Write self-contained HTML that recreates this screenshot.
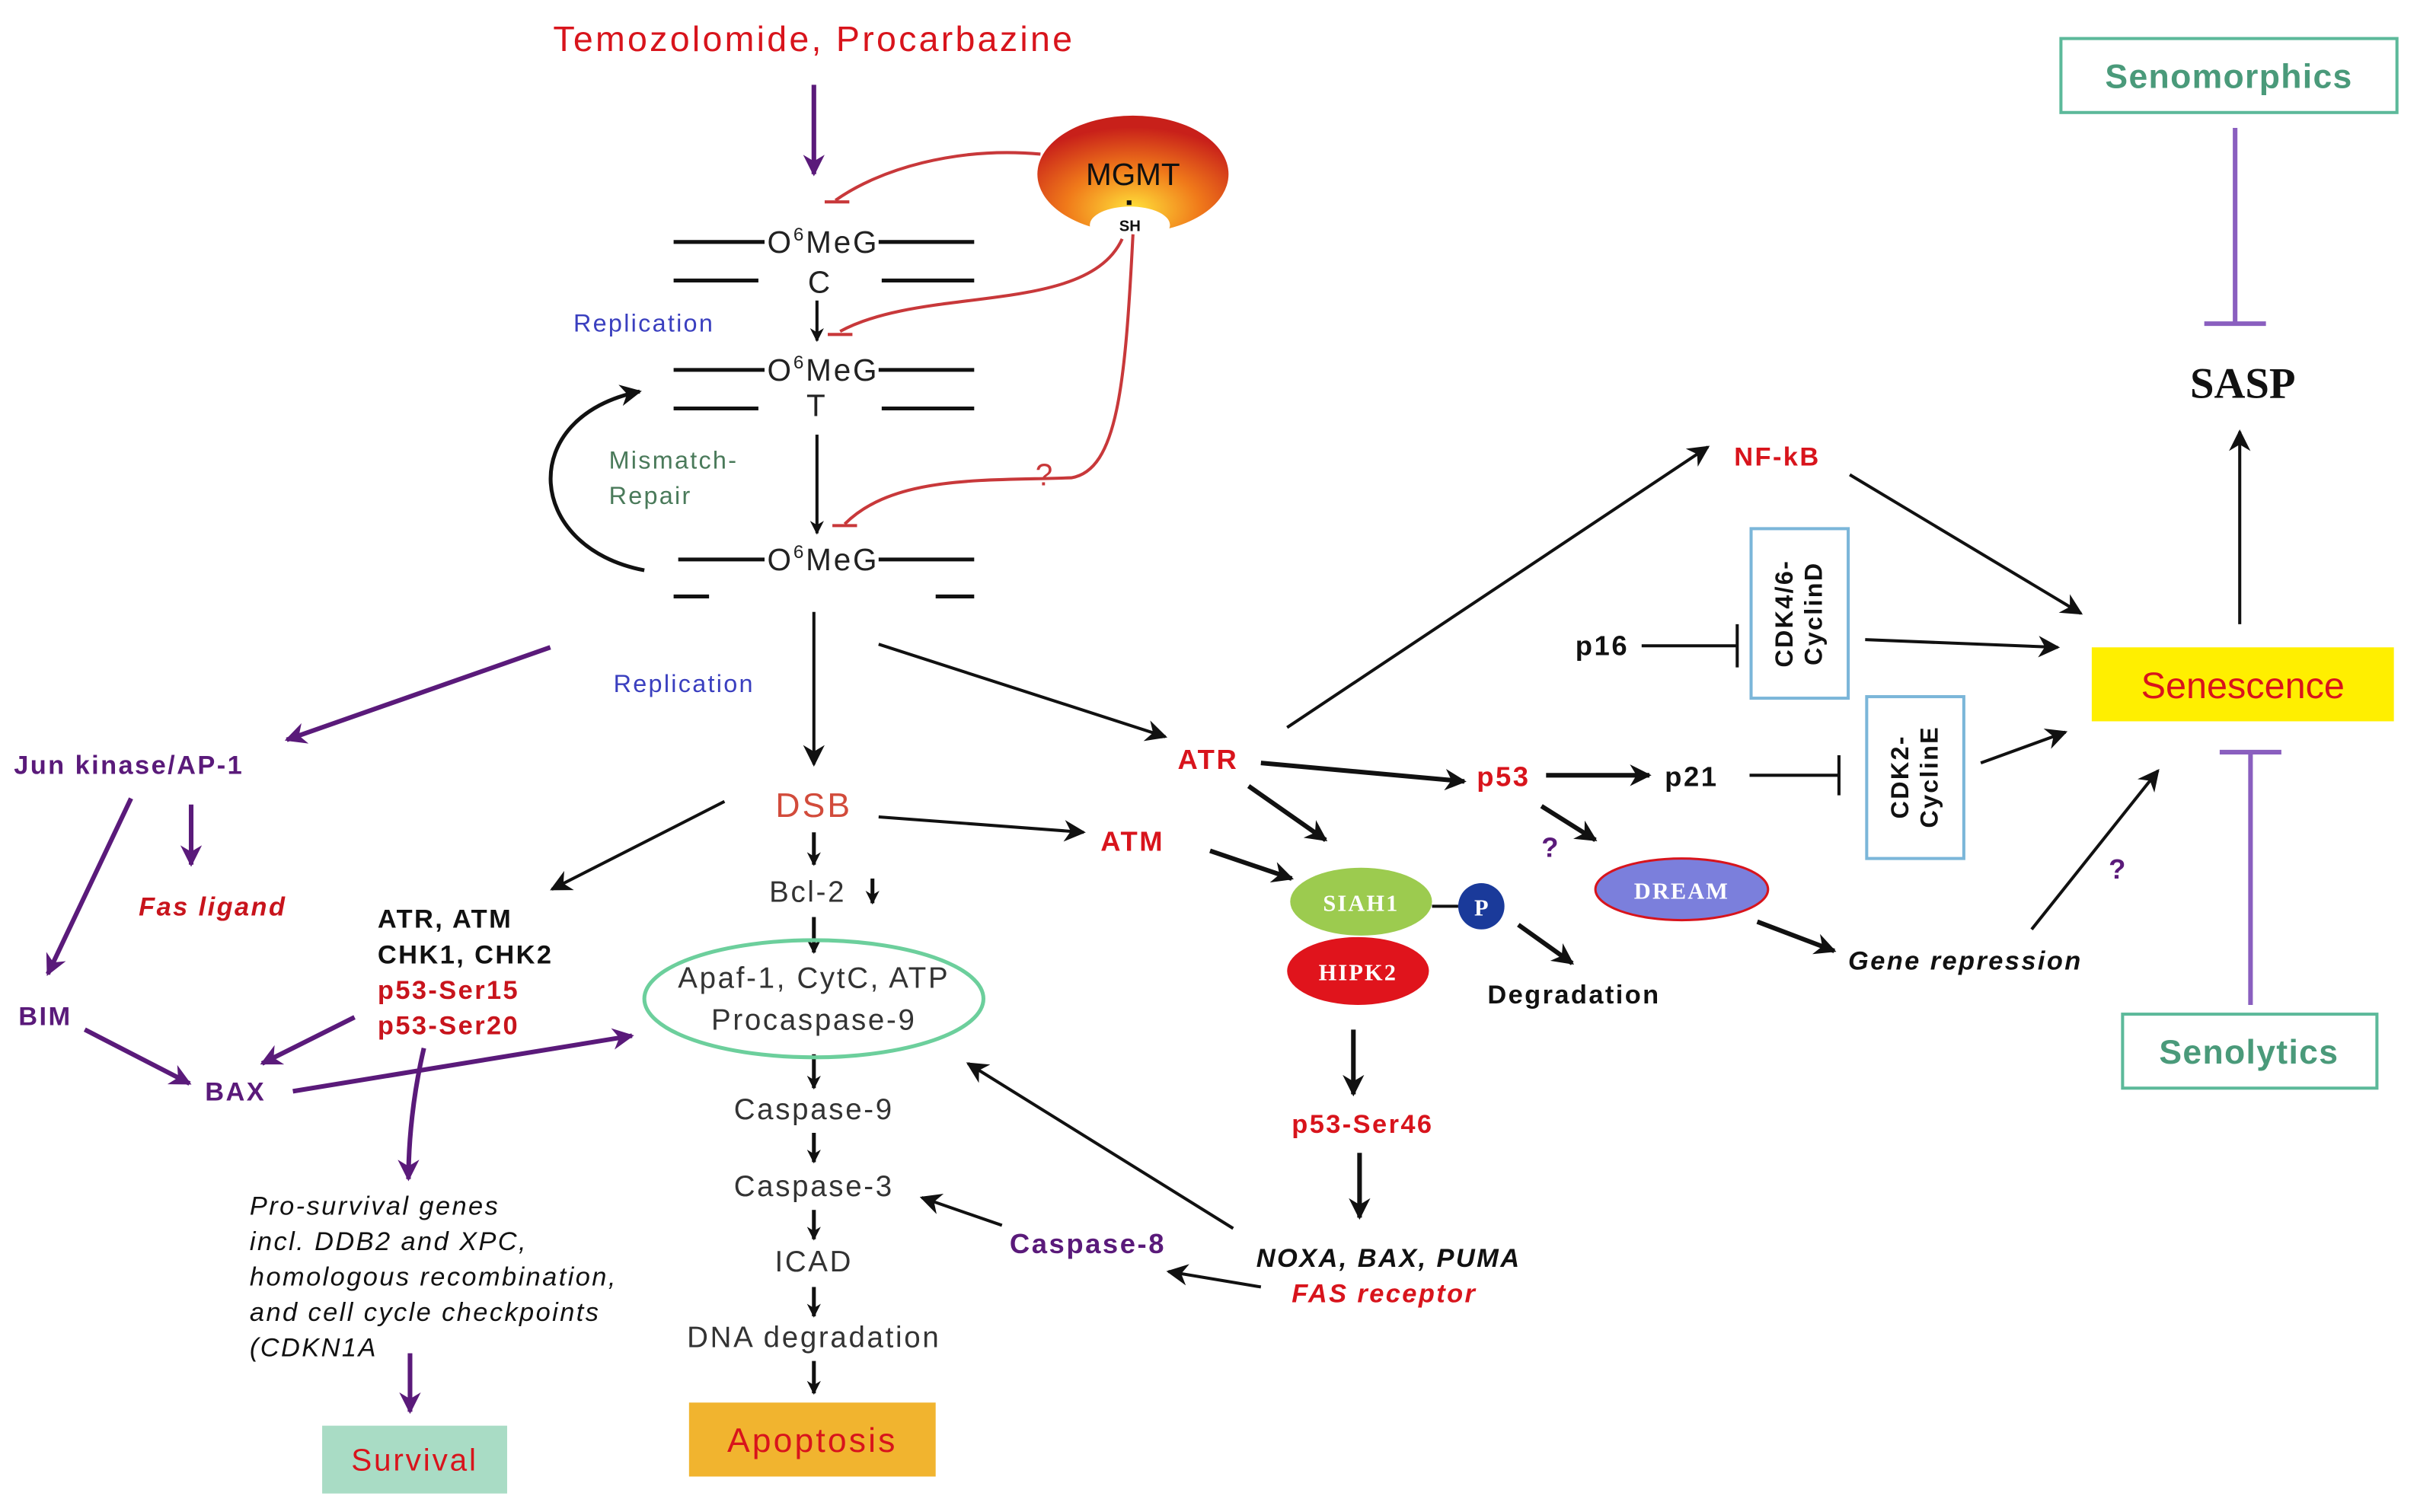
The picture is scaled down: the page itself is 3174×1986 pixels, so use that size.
<!DOCTYPE html>
<html><head><meta charset="utf-8"><style>
html,body{margin:0;padding:0;background:#fff}
svg{display:block}
text{font-family:"Liberation Sans",sans-serif;letter-spacing:0.07em}
</style></head><body>
<svg width="3174" height="1986" viewBox="0 0 1568 981" preserveAspectRatio="none" xmlns="http://www.w3.org/2000/svg">
<defs>
<marker id="a" viewBox="0 0 10 10" refX="9" refY="5" markerWidth="6" markerHeight="6" orient="auto" markerUnits="userSpaceOnUse"><path d="M0,0L10,5L0,10z" fill="#111"/></marker>
<marker id="ab" viewBox="0 0 10 10" refX="9" refY="5" markerWidth="14" markerHeight="14" orient="auto" markerUnits="userSpaceOnUse"><path d="M0,0L10,5L0,10L3,5z" fill="#111"/></marker>
<marker id="p" viewBox="0 0 10 10" refX="9" refY="5" markerWidth="14" markerHeight="14" orient="auto" markerUnits="userSpaceOnUse"><path d="M0,0L10,5L0,10L3,5z" fill="#5a1a7a"/></marker>
<marker id="s" viewBox="0 0 10 10" refX="9" refY="5" markerWidth="9" markerHeight="9" orient="auto" markerUnits="userSpaceOnUse"><path d="M0,0L10,5L0,10L3,5z" fill="#111"/></marker>
<radialGradient id="g" cx="0.5" cy="0.8" r="0.7"><stop offset="0" stop-color="#ffe23a"/><stop offset="0.5" stop-color="#f07a1a"/><stop offset="1" stop-color="#c8201a"/></radialGradient>
</defs>

<text x="528" y="33" font-size="23" fill="#d8141c" text-anchor="middle">Temozolomide, Procarbazine</text>
<line x1="528" y1="55" x2="528" y2="113" stroke="#5a1a7a" stroke-width="3" marker-end="url(#p)"/>

<ellipse cx="735" cy="113" rx="62" ry="38" fill="url(#g)"/>
<ellipse cx="733" cy="146" rx="26" ry="12" fill="#fff"/>
<text x="735" y="120" font-size="20" text-anchor="middle" fill="#111" style="letter-spacing:0">MGMT</text>
<rect x="731" y="130" width="3" height="3" fill="#111"/>
<text x="733" y="150" font-size="10" font-weight="bold" text-anchor="middle" fill="#111" style="letter-spacing:0">SH</text>

<g stroke="#c8383a" stroke-width="2" fill="none">
<path d="M675,100 C620,95 570,110 542,130"/><line x1="535" y1="131" x2="551" y2="131"/>
<path d="M728,155 C705,205 600,185 545,215"/><line x1="537" y1="217" x2="553" y2="217"/>
<path d="M735,152 C730,250 725,305 695,310 C640,312 580,308 548,340"/><line x1="540" y1="341" x2="556" y2="341"/>
</g>
<text x="678" y="315" font-size="20" fill="#c8383a" text-anchor="middle">?</text>

<g stroke="#111" stroke-width="2.5">
<line x1="437" y1="157" x2="496" y2="157"/><line x1="570" y1="157" x2="632" y2="157"/>
<line x1="437" y1="182" x2="492" y2="182"/><line x1="572" y1="182" x2="632" y2="182"/>
<line x1="437" y1="240" x2="496" y2="240"/><line x1="570" y1="240" x2="632" y2="240"/>
<line x1="437" y1="265" x2="492" y2="265"/><line x1="572" y1="265" x2="632" y2="265"/>
<line x1="440" y1="363" x2="496" y2="363"/><line x1="570" y1="363" x2="632" y2="363"/>
<line x1="437" y1="387" x2="460" y2="387"/><line x1="607" y1="387" x2="632" y2="387"/>
</g>
<g font-size="20" fill="#222" text-anchor="middle" style="letter-spacing:0">
<text x="534" y="164">O<tspan font-size="12" dy="-8">6</tspan><tspan dy="8">MeG</tspan></text>
<text x="532" y="190">C</text>
<text x="534" y="247">O<tspan font-size="12" dy="-8">6</tspan><tspan dy="8">MeG</tspan></text>
<text x="530" y="270">T</text>
<text x="534" y="370">O<tspan font-size="12" dy="-8">6</tspan><tspan dy="8">MeG</tspan></text>
</g>
<line x1="530" y1="195" x2="530" y2="221" stroke="#111" stroke-width="2" marker-end="url(#s)"/>
<line x1="530" y1="282" x2="530" y2="346" stroke="#111" stroke-width="2" marker-end="url(#s)"/>
<path d="M418,370 C340,355 335,270 415,254" stroke="#111" stroke-width="2.5" fill="none" marker-end="url(#ab)"/>
<text x="372" y="215" font-size="16" fill="#3a3fbf">Replication</text>
<text x="395" y="304" font-size="16" fill="#4a7a5a">Mismatch-</text>
<text x="395" y="327" font-size="16" fill="#4a7a5a">Repair</text>

<line x1="528" y1="397" x2="528" y2="496" stroke="#111" stroke-width="2" marker-end="url(#ab)"/>
<text x="398" y="449" font-size="16" fill="#3a3fbf">Replication</text>
<text x="528" y="530" font-size="22" fill="#d24b3b" text-anchor="middle">DSB</text>

<g stroke="#5a1a7a" stroke-width="3" fill="none">
<line x1="357" y1="420" x2="186" y2="480" marker-end="url(#p)"/>
<line x1="124" y1="522" x2="124" y2="561" marker-end="url(#p)"/>
<line x1="85" y1="518" x2="31" y2="632" marker-end="url(#p)"/>
<line x1="55" y1="668" x2="123" y2="703" marker-end="url(#p)"/>
<line x1="230" y1="660" x2="170" y2="690" marker-end="url(#p)"/>
<line x1="190" y1="708" x2="410" y2="672" marker-end="url(#p)"/>
<path d="M275,680 C268,710 265,740 265,765" marker-end="url(#p)"/>
<line x1="266" y1="878" x2="266" y2="916" marker-end="url(#p)"/>
</g>
<text x="9" y="502" font-size="17" font-weight="bold" fill="#5a1a7a">Jun kinase/AP-1</text>
<text x="90" y="594" font-size="17" font-weight="bold" font-style="italic" fill="#c8141c">Fas ligand</text>
<text x="12" y="665" font-size="17" font-weight="bold" fill="#5a1a7a">BIM</text>
<text x="133" y="714" font-size="17" font-weight="bold" fill="#5a1a7a">BAX</text>

<line x1="470" y1="520" x2="358" y2="577" stroke="#111" stroke-width="2" marker-end="url(#ab)"/>
<g font-size="17" font-weight="bold">
<text x="245" y="602" fill="#111">ATR, ATM</text>
<text x="245" y="625" fill="#111">CHK1, CHK2</text>
<text x="245" y="648" fill="#c8141c">p53-Ser15</text>
<text x="245" y="671" fill="#c8141c">p53-Ser20</text>
</g>
<g font-size="17" font-style="italic" fill="#111">
<text x="162" y="788">Pro-survival genes</text>
<text x="162" y="811">incl. DDB2 and XPC,</text>
<text x="162" y="834">homologous recombination,</text>
<text x="162" y="857">and cell cycle checkpoints</text>
<text x="162" y="880">(CDKN1A</text>
</g>
<rect x="209" y="925" width="120" height="44" fill="#a9dcc5"/>
<text x="269" y="954" font-size="20" fill="#d8141c" text-anchor="middle">Survival</text>

<g stroke="#111" stroke-width="2.5">
<line x1="528" y1="540" x2="528" y2="561" marker-end="url(#s)"/>
<line x1="566" y1="570" x2="566" y2="586" marker-end="url(#s)"/>
<line x1="528" y1="595" x2="528" y2="618" marker-end="url(#s)"/>
<line x1="528" y1="684" x2="528" y2="706" marker-end="url(#s)"/>
<line x1="528" y1="735" x2="528" y2="754" marker-end="url(#s)"/>
<line x1="528" y1="785" x2="528" y2="804" marker-end="url(#s)"/>
<line x1="528" y1="835" x2="528" y2="854" marker-end="url(#s)"/>
<line x1="528" y1="883" x2="528" y2="904" marker-end="url(#s)"/>
</g>
<g font-size="19" fill="#333" text-anchor="middle">
<text x="524" y="585">Bcl-2</text>
<text x="528" y="641">Apaf-1, CytC, ATP</text>
<text x="528" y="668">Procaspase-9</text>
<text x="528" y="726">Caspase-9</text>
<text x="528" y="776">Caspase-3</text>
<text x="528" y="825">ICAD</text>
<text x="528" y="874">DNA degradation</text>
</g>
<ellipse cx="528" cy="648" rx="110" ry="38" fill="none" stroke="#6ccf9c" stroke-width="2.5"/>
<rect x="447" y="910" width="160" height="48" fill="#f1b42f"/>
<text x="527" y="942" font-size="22" fill="#d8141c" text-anchor="middle">Apoptosis</text>

<g stroke="#111" stroke-width="2" fill="none">
<line x1="570" y1="530" x2="703" y2="540" marker-end="url(#ab)"/>
<line x1="570" y1="418" x2="756" y2="478" marker-end="url(#ab)"/>
<line x1="835" y1="472" x2="1108" y2="290" marker-end="url(#ab)"/>
<line x1="1200" y1="308" x2="1350" y2="398" marker-end="url(#ab)"/>
<line x1="1210" y1="415" x2="1335" y2="420" marker-end="url(#ab)"/>
<line x1="1285" y1="495" x2="1340" y2="475" marker-end="url(#ab)"/>
<line x1="1453" y1="405" x2="1453" y2="280" marker-end="url(#ab)"/>
<line x1="1318" y1="603" x2="1400" y2="500" marker-end="url(#ab)"/>
<line x1="800" y1="797" x2="628" y2="690" marker-end="url(#ab)"/>
<line x1="818" y1="835" x2="758" y2="825" marker-end="url(#ab)"/>
<line x1="650" y1="795" x2="598" y2="777" marker-end="url(#ab)"/>
<line x1="1065" y1="419" x2="1127" y2="419"/>
<line x1="1127" y1="405" x2="1127" y2="433"/>
<line x1="1135" y1="503" x2="1193" y2="503"/>
<line x1="1193" y1="490" x2="1193" y2="516"/>
</g>
<g stroke="#111" stroke-width="3" fill="none">
<line x1="818" y1="495" x2="950" y2="507" marker-end="url(#ab)"/>
<line x1="1003" y1="503" x2="1070" y2="503" marker-end="url(#ab)"/>
<line x1="1000" y1="523" x2="1035" y2="545" marker-end="url(#ab)"/>
<line x1="1140" y1="598" x2="1190" y2="617" marker-end="url(#ab)"/>
<line x1="810" y1="510" x2="860" y2="545" marker-end="url(#ab)"/>
<line x1="785" y1="552" x2="838" y2="570" marker-end="url(#ab)"/>
<line x1="985" y1="600" x2="1020" y2="625" marker-end="url(#ab)"/>
<line x1="878" y1="668" x2="878" y2="710" marker-end="url(#ab)"/>
<line x1="882" y1="748" x2="882" y2="790" marker-end="url(#ab)"/>
</g>
<g font-size="18" font-weight="bold" fill="#d8141c">
<text x="714" y="552">ATM</text>
<text x="764" y="499">ATR</text>
<text x="1125" y="302" font-size="17">NF-kB</text>
<text x="958" y="510">p53</text>
</g>
<text x="1022" y="425" font-size="18" font-weight="bold" fill="#111">p16</text>
<text x="1080" y="510" font-size="18" font-weight="bold" fill="#111">p21</text>

<rect x="1136" y="343" width="63" height="110" fill="none" stroke="#7bb6d9" stroke-width="2"/>
<g transform="translate(1167,398) rotate(-90)" font-size="16" font-weight="bold" fill="#111" text-anchor="middle"><text x="0" y="-4">CDK4/6-</text><text x="0" y="15">CyclinD</text></g>
<rect x="1211" y="452" width="63" height="105" fill="none" stroke="#7bb6d9" stroke-width="2"/>
<g transform="translate(1242,504) rotate(-90)" font-size="16" font-weight="bold" fill="#111" text-anchor="middle"><text x="0" y="-4">CDK2-</text><text x="0" y="15">CyclinE</text></g>

<rect x="1357" y="420" width="196" height="48" fill="#ffef00"/>
<text x="1455" y="453" font-size="24" fill="#d8141c" text-anchor="middle" style="letter-spacing:0">Senescence</text>
<text x="1455" y="258" font-size="28" font-weight="bold" font-family="Liberation Serif,serif" fill="#111" text-anchor="middle" style="font-family:'Liberation Serif',serif;letter-spacing:0">SASP</text>

<rect x="1337" y="25" width="218" height="48" fill="#fff" stroke="#5cb99a" stroke-width="2"/>
<text x="1446" y="57" font-size="22" font-weight="bold" fill="#4a9a7a" text-anchor="middle" style="letter-spacing:0.03em">Senomorphics</text>
<g stroke="#8a5fbf" stroke-width="3">
<line x1="1450" y1="83" x2="1450" y2="210"/><line x1="1430" y1="210" x2="1470" y2="210"/>
<line x1="1460" y1="488" x2="1460" y2="652"/><line x1="1440" y1="488" x2="1480" y2="488"/>
</g>
<rect x="1377" y="658" width="165" height="48" fill="#fff" stroke="#5cb99a" stroke-width="2"/>
<text x="1459" y="690" font-size="22" font-weight="bold" fill="#4a9a7a" text-anchor="middle" style="letter-spacing:0.03em">Senolytics</text>

<text x="1368" y="570" font-size="18" font-weight="bold" fill="#5a1a7a">?</text>
<text x="1000" y="556" font-size="18" font-weight="bold" fill="#5a1a7a">?</text>

<ellipse cx="1091" cy="577" rx="56" ry="20" fill="#7b7fdc" stroke="#d8141c" stroke-width="1.5"/>
<text x="1091" y="583" font-size="15" font-weight="bold" fill="#fff" text-anchor="middle" style="font-family:'Liberation Serif',serif">DREAM</text>
<text x="1199" y="629" font-size="17" font-weight="bold" font-style="italic" fill="#111">Gene repression</text>

<line x1="929" y1="588" x2="946" y2="588" stroke="#111" stroke-width="2"/>
<ellipse cx="883" cy="585" rx="46" ry="22" fill="#9ccb4f"/>
<text x="883" y="591" font-size="15" font-weight="bold" fill="#fff" text-anchor="middle" style="font-family:'Liberation Serif',serif">SIAH1</text>
<circle cx="961" cy="588" r="15" fill="#1a3a9a"/>
<text x="961" y="594" font-size="15" font-weight="bold" fill="#fff" text-anchor="middle" style="font-family:'Liberation Serif',serif;letter-spacing:0">P</text>
<ellipse cx="881" cy="630" rx="46" ry="22" fill="#e0141c"/>
<text x="881" y="636" font-size="15" font-weight="bold" fill="#fff" text-anchor="middle" style="font-family:'Liberation Serif',serif">HIPK2</text>
<text x="965" y="651" font-size="17" font-weight="bold" fill="#111">Degradation</text>
<text x="838" y="735" font-size="17" font-weight="bold" fill="#d8141c">p53-Ser46</text>
<text x="815" y="822" font-size="17" font-weight="bold" font-style="italic" fill="#111">NOXA, BAX, PUMA</text>
<text x="838" y="845" font-size="17" font-weight="bold" font-style="italic" fill="#d8141c">FAS receptor</text>
<text x="655" y="813" font-size="18" font-weight="bold" fill="#5a1a7a">Caspase-8</text>
</svg>
</body></html>
